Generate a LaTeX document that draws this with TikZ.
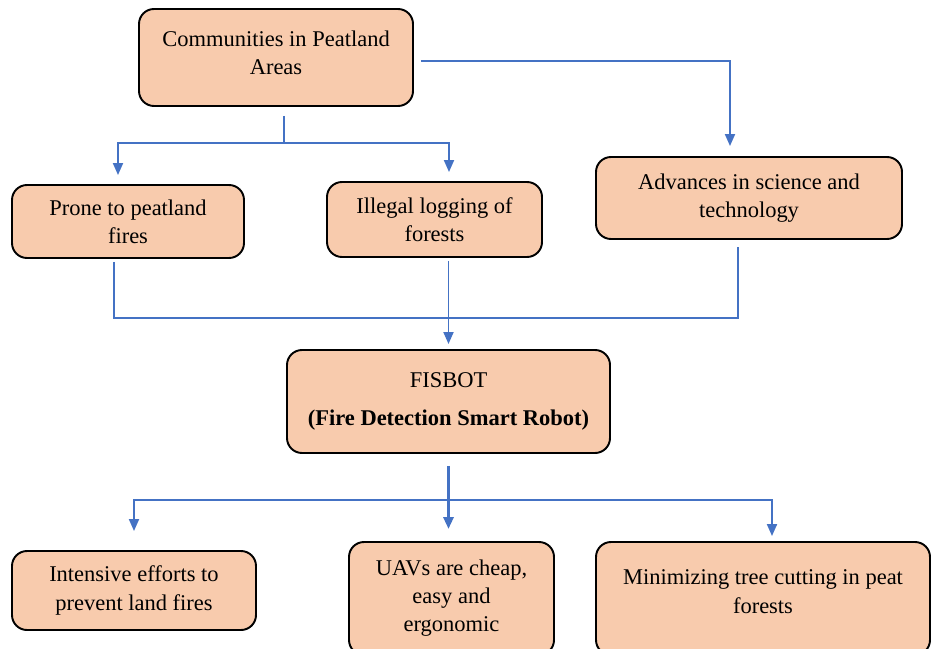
\documentclass[tikz,border=0pt]{standalone}
\usepackage{fontspec}
\setmainfont{Liberation Serif}
\usetikzlibrary{arrows.meta,calc}
\definecolor{peach}{HTML}{F8CBAD}
\definecolor{linkblue}{HTML}{4472C4}

\begin{document}
\begin{tikzpicture}[
  x=0.2mm,y=-0.2mm,
  box/.style={draw=black,fill=peach,line width=1.1pt,rounded corners=3mm,align=center,inner sep=0pt,font=\fontsize{12.8}{16}\selectfont},
  link/.style={draw=linkblue,line width=1.1pt},
  stem/.style={draw=linkblue,line width=1.7pt},
  arrow/.style={link,-{Triangle[length=2.4mm,width=2mm]}},
]
\useasboundingbox (0,0) rectangle (932,649);

% boxes
\node[box,minimum width=54.8mm,minimum height=19.4mm,text depth=2mm] (comm) at (276,57.5) {Communities in Peatland\\Areas};
\node[box,minimum width=46.4mm,minimum height=14.6mm] (prone) at (128,221.5) {Prone to peatland\\fires};
\node[box,minimum width=43mm,minimum height=15mm] (illegal) at (434.5,219.5) {Illegal logging of\\forests};
\node[box,minimum width=61.2mm,minimum height=16.4mm] (adv) at (749,198) {Advances in science and\\technology};
\node[box,minimum width=64.6mm,minimum height=20.6mm] (fis) at (448.5,401.5) {FISBOT\\[2mm]\textbf{(Fire Detection Smart Robot)}};
\node[box,minimum width=48.8mm,minimum height=15.8mm] (intens) at (134,590.5) {Intensive efforts to\\prevent land fires};
\node[box,minimum width=41mm,minimum height=22.6mm] (uav) at (451.5,598.5) {UAVs are cheap,\\easy and\\ergonomic};
\node[box,minimum width=66.8mm,minimum height=22.6mm,text depth=2.8mm] (minim) at (763,598.5) {Minimizing tree cutting in peat\\forests};

% top split
\coordinate (split1) at (284,143);
\draw[stem,shorten <=1.8mm] (comm.south -| split1) -- (split1);
\draw[arrow,shorten >=1.8mm] (split1) -| ([xshift=-2mm]prone.north);
\draw[arrow,shorten >=1.8mm] (split1) -| ([xshift=2.9mm]illegal.north);
\draw[arrow,shorten <=1.4mm,shorten >=2mm] ([yshift=-0.7mm]comm.east) -| ([xshift=-3.8mm]adv.north);

% merge into FISBOT
\coordinate (join) at (447,318);
\draw[link,shorten <=0.6mm,shorten >=1.4mm] ([xshift=-2.8mm]prone.south) |- (join) -| ([xshift=-2.2mm]adv.south);
\draw[arrow,shorten <=0.6mm,shorten >=1mm] (illegal.south -| fis.north) -- (fis.north);

% bottom split
\coordinate (split2) at (449,500);
\draw[stem,shorten <=2.4mm,shorten >=2.4mm,-{Triangle[length=2.4mm,width=2mm]}] (fis.south) -- (fis.south |- uav.north);
\draw[arrow,shorten >=3.8mm] (split2) -| (intens.north);
\draw[arrow,shorten >=1mm] (split2) -| ([xshift=1.8mm]minim.north);

\end{tikzpicture}
\end{document}
